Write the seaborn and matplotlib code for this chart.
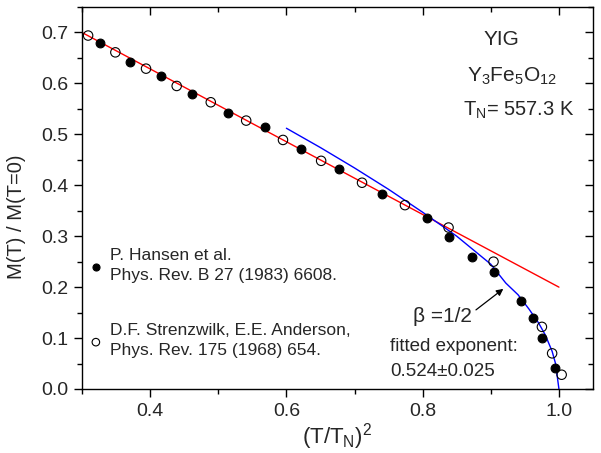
import matplotlib
matplotlib.use("Agg")
import matplotlib.pyplot as plt
import seaborn as sns
import pandas as pd
from matplotlib.ticker import MultipleLocator

# data: x = (T/TN)^2, y = M(T)/M(T=0)
hansen_x = [0.327, 0.371, 0.416, 0.462, 0.515, 0.568, 0.621, 0.677, 0.740,
            0.806, 0.839, 0.872, 0.904, 0.944, 0.962, 0.975, 0.994]
hansen_y = [0.680, 0.643, 0.614, 0.580, 0.541, 0.514, 0.471, 0.431, 0.383,
            0.335, 0.299, 0.260, 0.230, 0.172, 0.139, 0.100, 0.041]

strenz_x = [0.309, 0.349, 0.394, 0.439, 0.489, 0.541, 0.595, 0.651, 0.711,
            0.774, 0.838, 0.904, 0.975, 0.990, 1.004]
strenz_y = [0.694, 0.661, 0.629, 0.595, 0.563, 0.527, 0.489, 0.448, 0.405,
            0.361, 0.317, 0.250, 0.122, 0.070, 0.028]

red_x = [0.30, 0.50, 0.70, 0.85, 1.00]
red_y = [0.700, 0.557, 0.414, 0.307, 0.200]

blue_x = [0.600, 0.650, 0.700, 0.750, 0.800, 0.850, 0.900, 0.922, 0.940,
          0.956, 0.970, 0.980, 0.990, 0.995, 1.000]
blue_y = [0.512, 0.474, 0.434, 0.392, 0.347, 0.300, 0.245, 0.208, 0.185,
          0.157, 0.130, 0.106, 0.074, 0.050, 0.000]

xticks = [0.4, 0.6, 0.8, 1.0]
yticks = [0.0, 0.1, 0.2, 0.3, 0.4, 0.5, 0.6, 0.7]

sns.set_style("ticks")
plt.rcParams['font.family'] = ['Liberation Sans', 'DejaVu Sans']
plt.rcParams['mathtext.fontset'] = 'custom'
plt.rcParams['mathtext.rm'] = 'Liberation Sans'
plt.rcParams['mathtext.it'] = 'Liberation Sans:italic'

df_h = pd.DataFrame({'x': hansen_x, 'y': hansen_y})
df_s = pd.DataFrame({'x': strenz_x, 'y': strenz_y})
df_r = pd.DataFrame({'x': red_x, 'y': red_y})
df_b = pd.DataFrame({'x': blue_x, 'y': blue_y})

fig, ax = plt.subplots(figsize=(6.01, 4.53), dpi=100)
fig.subplots_adjust(left=0.1364, right=0.9867, top=0.9845, bottom=0.1413)

sns.lineplot(data=df_r, x='x', y='y', ax=ax, color='red', lw=1.0,
             sort=False, estimator=None, zorder=2)
sns.lineplot(data=df_b, x='x', y='y', ax=ax, color='blue', lw=1.0,
             sort=False, estimator=None, zorder=2)
sns.scatterplot(data=df_h, x='x', y='y', ax=ax, color='black', s=40,
                edgecolor='black', linewidth=0.8, zorder=3,
                label='P. Hansen et al.\nPhys. Rev. B 27 (1983) 6608.')
sns.scatterplot(data=df_s, x='x', y='y', ax=ax, facecolor='none', s=46,
                edgecolor='black', linewidth=0.8, zorder=3,
                label='D.F. Strenzwilk, E.E. Anderson,\nPhys. Rev. 175 (1968) 654.')

ax.set_xlim(0.3, 1.05)
ax.set_ylim(0.0, 0.75)
ax.set_xticks(xticks)
ax.set_yticks(yticks)
ax.set_xticklabels([f'{v:.1f}' for v in xticks])
ax.set_yticklabels([f'{v:.1f}' for v in yticks])
ax.xaxis.set_minor_locator(MultipleLocator(0.1))
ax.yaxis.set_minor_locator(MultipleLocator(0.05))
ax.tick_params(which='both', top=True, right=True, labelsize=14, color='black',
               direction='out')
ax.tick_params(which='major', length=6, width=1, pad=4)
ax.tick_params(which='minor', length=3.5, width=1)
# the top and right ticks point inward
for t in ax.xaxis.get_major_ticks() + ax.xaxis.get_minor_ticks():
    t.tick2line.set_marker(3)
for t in ax.yaxis.get_major_ticks() + ax.yaxis.get_minor_ticks():
    t.tick2line.set_marker(0)
for s in ax.spines.values():
    s.set_color('black')
    s.set_linewidth(1.0)

ax.set_xlabel('(T/T$_\\mathrm{N}$)$^2$', fontsize=16, labelpad=1)
ax.set_ylabel('M(T) / M(T=0)', fontsize=14.5)
ax.yaxis.set_label_coords(-0.11, 0.45)

leg = ax.legend(loc='center left', bbox_to_anchor=(0.0, 0.225), frameon=False,
                fontsize=12.5, handletextpad=0.4, handlelength=0.8,
                borderpad=0.4, borderaxespad=0.0,
                labelspacing=2.3, markerscale=0.8)
for t in leg.get_texts():
    t.set_linespacing(1.45)

ax.text(0.915, 0.686, 'YIG', ha='center', va='center', fontsize=15)
ax.text(0.931, 0.614, 'Y$_3$Fe$_5$O$_{12}$', ha='center', va='center', fontsize=15)
ax.text(0.941, 0.548, 'T$_\\mathrm{N}$= 557.3 K', ha='center', va='center', fontsize=14.5)

ax.annotate('', xy=(0.9216, 0.200), xytext=(0.875, 0.152),
            arrowprops=dict(arrowstyle='-|>', color='black', lw=0.9,
                            mutation_scale=10))
ax.text(0.872, 0.142, 'β =1/2', ha='right', va='center', fontsize=15)
ax.text(0.7525, 0.083, 'fitted exponent:', ha='left', va='center', fontsize=13.5)
ax.text(0.7525, 0.034, '0.524±0.025', ha='left', va='center', fontsize=13.5)

fig.savefig('out.png', dpi=100)
